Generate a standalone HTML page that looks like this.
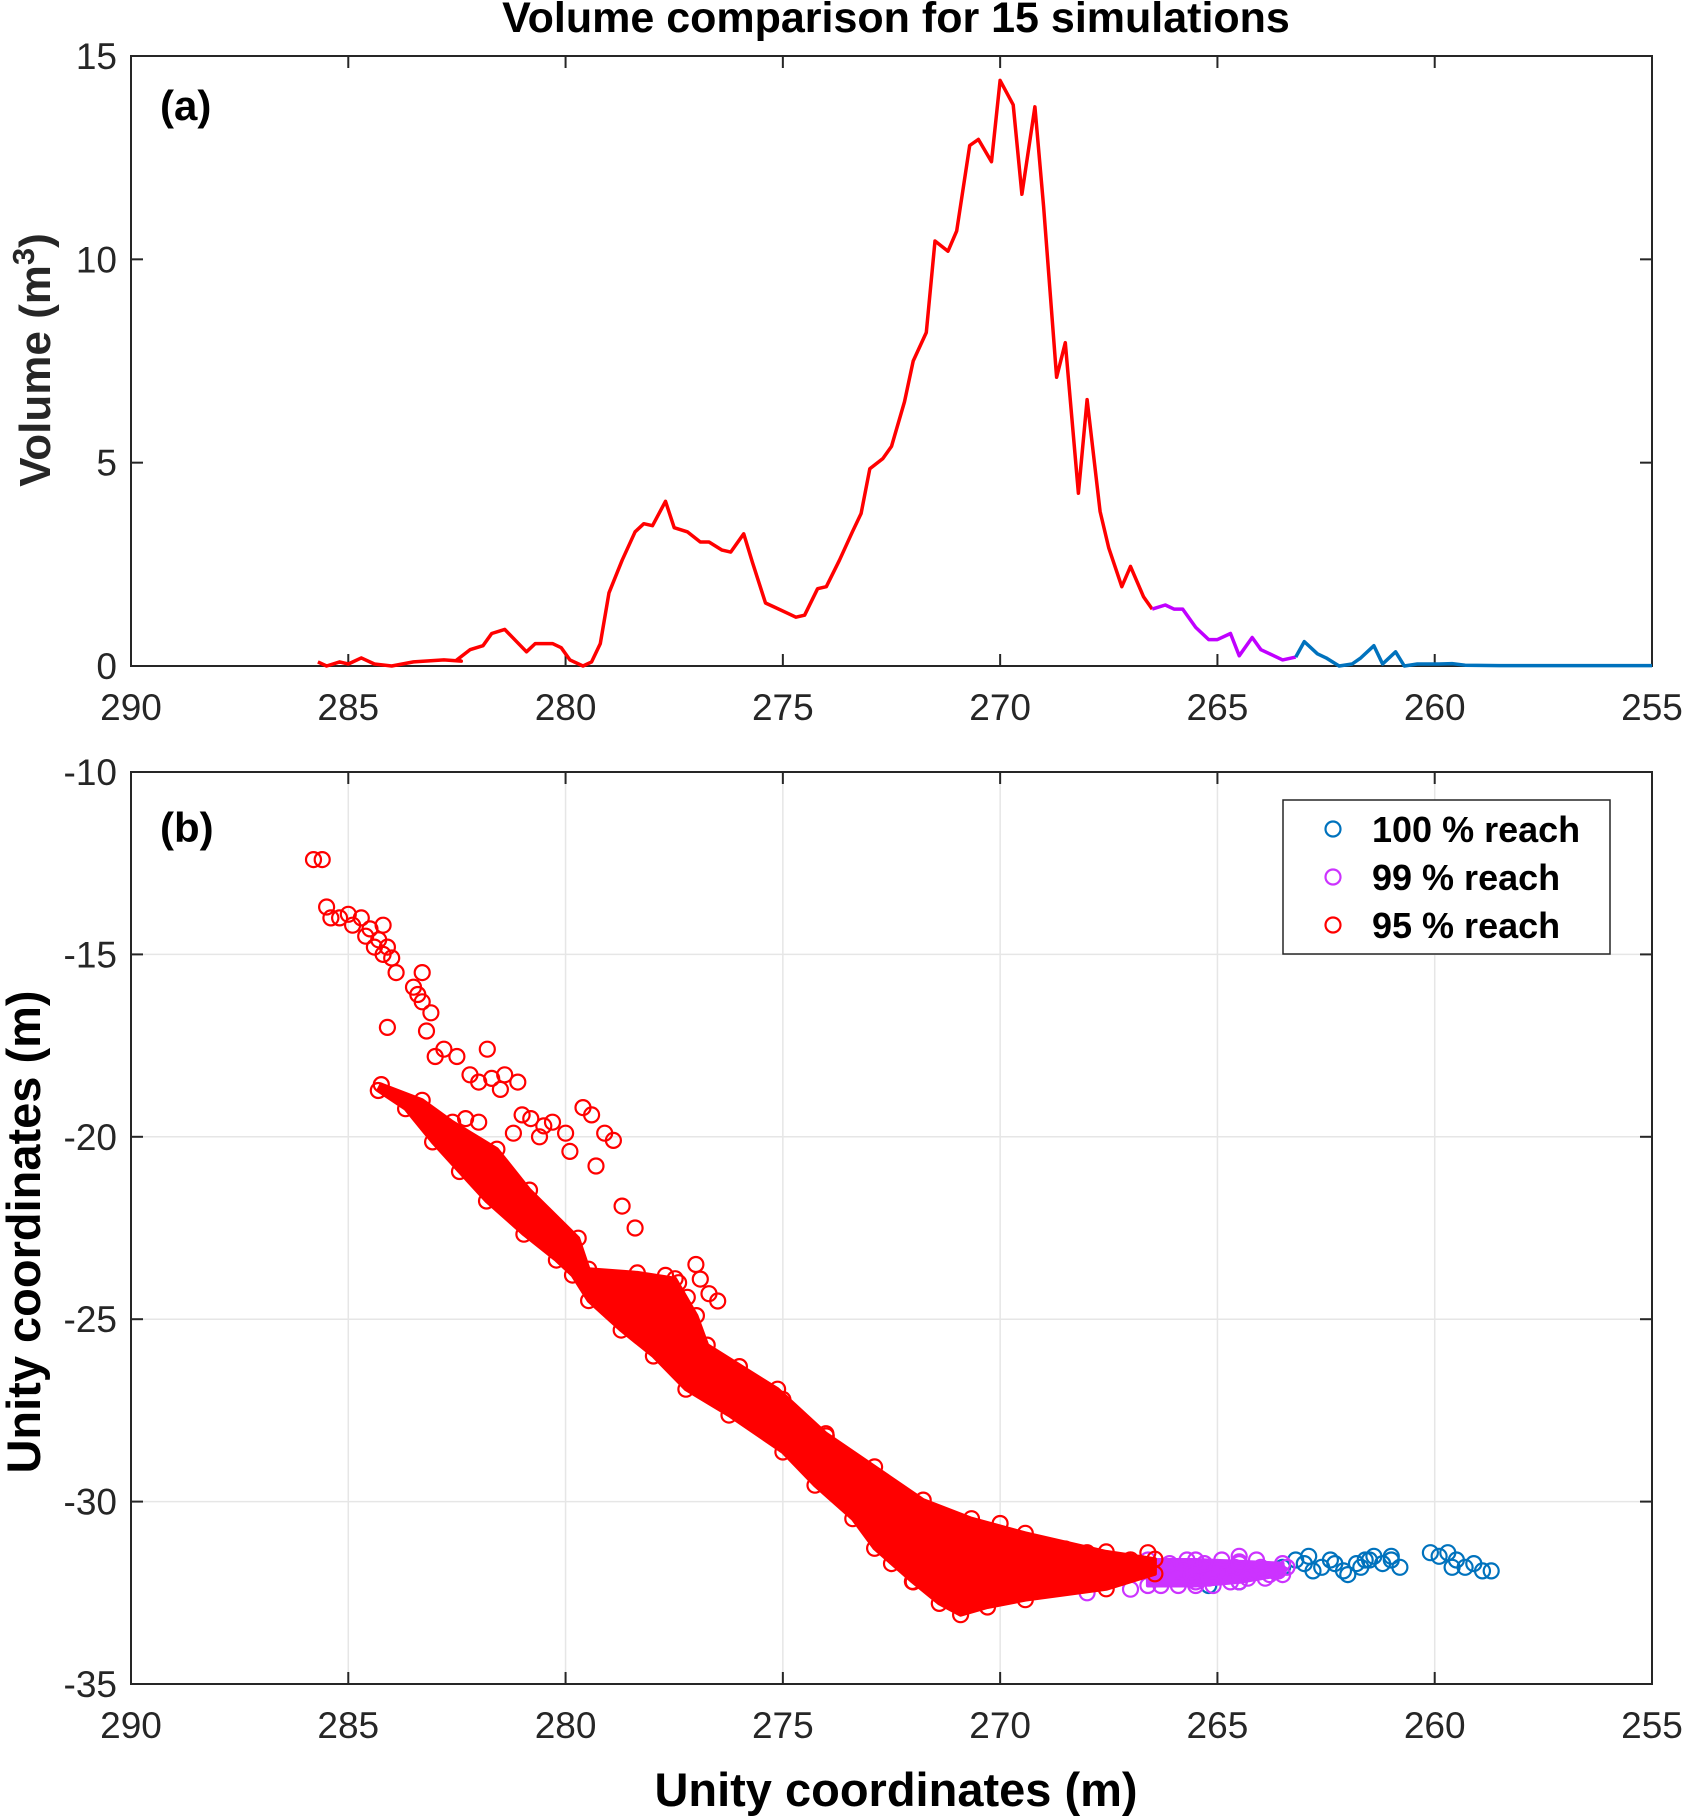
<!DOCTYPE html>
<html><head><meta charset="utf-8"><style>
html,body{margin:0;padding:0;background:#fff;}
svg{display:block;font-family:"Liberation Sans",Arial,sans-serif;}
</style></head><body>
<svg id="fig" width="1688" height="1816" viewBox="0 0 1688 1816" xmlns="http://www.w3.org/2000/svg">
<text x="896" y="32" text-anchor="middle" font-size="43" font-weight="bold">Volume comparison for 15 simulations</text>
<g id="topPanel"></g>
<g id="botPanel"></g>
</svg>
<script>
// ---------- Panel (a) data ----------
const redVX=[285.7,285.5,285.2,285.0,284.7,284.4,284.0,283.5,282.8,282.4,282.5,282.2,281.9,281.7,281.4,280.9,280.7,280.3,280.1,279.9,279.6,279.4,279.2,279.0,278.7,278.4,278.2,278.0,277.7,277.5,277.2,276.9,276.7,276.4,276.2,275.9,275.7,275.4,275.2,274.9,274.7,274.5,274.2,274.0,273.7,273.4,273.2,273.0,272.7,272.5,272.2,272.0,271.7,271.5,271.2,271.0,270.7,270.5,270.2,270.0,269.7,269.5,269.2,269.0,268.7,268.5,268.2,268.0,267.7,267.5,267.2,267.0,266.7,266.5];
const redVY=[0.1,0.0,0.1,0.05,0.2,0.05,0.0,0.1,0.15,0.12,0.15,0.4,0.5,0.8,0.9,0.35,0.55,0.55,0.45,0.15,0.0,0.1,0.55,1.8,2.6,3.3,3.5,3.45,4.05,3.4,3.3,3.05,3.05,2.85,2.8,3.25,2.55,1.55,1.45,1.3,1.2,1.25,1.9,1.95,2.6,3.3,3.75,4.85,5.1,5.4,6.5,7.5,8.2,10.45,10.2,10.7,12.8,12.95,12.4,14.4,13.8,11.6,13.75,11.3,7.1,7.95,4.25,6.55,3.8,2.9,1.95,2.45,1.7,1.4];
const purVX=[266.5,266.2,266.0,265.8,265.5,265.2,265.0,264.7,264.5,264.2,264.0,263.7,263.5,263.2];
const purVY=[1.4,1.5,1.4,1.4,0.95,0.65,0.65,0.8,0.25,0.7,0.4,0.25,0.15,0.22];
const bluVX=[263.2,263.0,262.7,262.5,262.2,261.9,261.7,261.4,261.2,260.9,260.7,260.4,260.1,259.9,259.6,259.3,258.5,257,256,255];
const bluVY=[0.22,0.6,0.3,0.2,0.0,0.05,0.2,0.5,0.05,0.35,0.0,0.05,0.05,0.05,0.06,0.02,0.01,0.01,0.01,0.01];
const xTicks=[290,285,280,275,270,265,260,255];
const yTicksTop=[0,5,10,15];
const yTicksBot=[-10,-15,-20,-25,-30,-35];
// ---------- Panel (b) data ----------
// dense-region envelopes (data coords)
const redBandX=[284.24,283.3,282.6,281.58,280.83,279.71,279.47,278.35,277.48,276.99,276.74,275.12,274.01,272.89,271.77,270.66,269.42,267.56,266.44,266.44,267.56,269.42,270.29,270.91,271.40,272.02,272.89,273.39,274.26,275.00,276.24,277.23,277.98,278.72,279.47,279.84,280.21,280.96,281.82,282.44,283.06,283.68,284.31];
const redBandY=[-18.57,-19.0,-19.6,-20.34,-21.46,-22.78,-23.63,-23.73,-23.89,-24.90,-25.71,-26.92,-28.14,-29.05,-29.96,-30.47,-30.87,-31.38,-31.58,-31.98,-32.39,-32.69,-32.89,-33.1,-32.79,-32.19,-31.28,-30.47,-29.55,-28.64,-27.63,-26.92,-26.01,-25.30,-24.49,-23.79,-23.38,-22.67,-21.76,-20.95,-20.14,-19.23,-18.73];
const purBandX=[266.6,265.5,264.5,263.5,263.5,264.5,265.5,266.6];
const purBandY=[-31.6,-31.6,-31.65,-31.7,-32.0,-32.2,-32.3,-32.3];
const redSX=[285.8,285.6,285.5,285.4,285.2,285.0,284.9,284.7,284.6,284.5,284.4,284.3,284.2,284.1,284.0,284.2,283.9,284.1,283.5,283.4,283.3,283.3,283.1,283.2,283.0,282.8,282.5,282.2,282.0,281.8,281.7,281.4,281.1,281.5,281.0,280.8,280.5,280.3,280.0,281.2,280.6,279.9,279.6,279.4,279.1,278.9,279.3,278.7,278.4,282.3,282.0,277.7,277.4,276.9,277.2,276.7,276.5,277.0,
272.5,272.0,271.6,270.2,269.0,268.0,267.0,266.6,276.0,275.0,274.0,273.2,277.6,273.0,270.0,268.5,267.0];
const redSY=[-12.4,-12.4,-13.7,-14.0,-14.0,-13.9,-14.2,-14.0,-14.5,-14.3,-14.8,-14.6,-15.0,-14.8,-15.1,-14.2,-15.5,-17.0,-15.9,-16.1,-16.3,-15.5,-16.6,-17.1,-17.8,-17.6,-17.8,-18.3,-18.5,-17.6,-18.4,-18.3,-18.5,-18.7,-19.4,-19.5,-19.7,-19.6,-19.9,-19.9,-20.0,-20.4,-19.2,-19.4,-19.9,-20.1,-20.8,-21.9,-22.5,-19.5,-19.6,-23.8,-24.0,-23.9,-24.4,-24.3,-24.5,-23.5,
-31.7,-32.2,-30.3,-31.0,-31.3,-31.4,-31.6,-31.4,-26.3,-27.2,-28.2,-29.2,-25.8,-29.9,-30.6,-31.3,-31.6];
const purSX=[266.4,266.2,266.0,265.8,265.6,265.4,265.2,265.0,264.8,264.6,264.4,264.2,264.0,263.8,263.6,263.4,266.3,265.9,265.5,265.1,264.7,264.3,263.9,266.1,265.7,265.3,264.9,264.5,264.1,263.7,267.0,268.0,264.5];
const purSY=[-32.0,-31.8,-32.1,-31.9,-32.0,-31.8,-32.1,-31.9,-32.0,-31.8,-32.0,-31.9,-31.8,-32.0,-31.9,-31.8,-32.3,-32.3,-32.2,-32.3,-32.2,-32.1,-32.1,-31.7,-31.6,-31.7,-31.6,-31.7,-31.6,-31.9,-32.4,-32.5,-31.5];
const bluSX=[263.5,263.2,262.9,262.6,262.4,262.1,261.8,261.6,261.4,261.2,261.0,260.8,260.1,259.9,259.7,259.5,259.3,259.1,258.9,258.7,262.8,262.3,261.7,261.5,261.0,263.0,262.0,259.6,264.5,265.2];
const bluSY=[-31.8,-31.6,-31.5,-31.8,-31.6,-31.9,-31.7,-31.6,-31.5,-31.7,-31.5,-31.8,-31.4,-31.5,-31.4,-31.6,-31.8,-31.7,-31.9,-31.9,-31.9,-31.7,-31.8,-31.6,-31.6,-31.7,-32.0,-31.8,-32.2,-32.3];

const NS='http://www.w3.org/2000/svg';
function mk(tag,attrs,parent){const e=document.createElementNS(NS,tag);for(const k in attrs)e.setAttribute(k,attrs[k]);parent.appendChild(e);return e;}
const L=131,R=1652;
const xs=v=>L+(290-v)/35*(R-L);
const TT=56,TB=666; const yT=v=>TB-(v/15)*(TB-TT);
const BT=772,BB=1684; const yB=v=>BT+(-10-v)/25*(BB-BT);
const gTop=document.getElementById('topPanel'), gBot=document.getElementById('botPanel');
const TF=37;

// ---- panel a ----
let el;
el=mk('rect',{x:L,y:TT,width:R-L,height:TB-TT,fill:'#fff',stroke:'#262626','stroke-width':2},gTop);


xTicks.forEach(t=>{const x=xs(t);
  mk('line',{x1:x,y1:TB,x2:x,y2:TB-12,stroke:'#262626','stroke-width':2},gTop);
  mk('line',{x1:x,y1:TT,x2:x,y2:TT+12,stroke:'#262626','stroke-width':2},gTop);
  el=mk('text',{x:x,y:TB+54,'text-anchor':'middle','font-size':TF,fill:'#262626'},gTop);el.textContent=t;
  
  
});
yTicksTop.forEach(t=>{const y=yT(t);
  mk('line',{x1:L,y1:y,x2:L+12,y2:y,stroke:'#262626','stroke-width':2},gTop);
  mk('line',{x1:R,y1:y,x2:R-12,y2:y,stroke:'#262626','stroke-width':2},gTop);
  el=mk('text',{x:L-14,y:y+13,'text-anchor':'end','font-size':TF,fill:'#262626'},gTop);el.textContent=t;
  
  
});
function line(X,Y,c,name){const n=Math.min(X.length,Y.length);const pts=[];for(let i=0;i<n;i++)pts.push(xs(X[i]).toFixed(1)+','+yT(Y[i]).toFixed(1));
  const e=mk('polyline',{points:pts.join(' '),fill:'none',stroke:c,'stroke-width':3.5,'stroke-linejoin':'round'},gTop);
  
  }
line(redVX,redVY,'#ff0000','volume-line-95');
line(purVX,purVY,'#c000ff','volume-line-99');
line(bluVX,bluVY,'#0072bd','volume-line-100');
el=mk('text',{x:160,y:120,'font-size':42,'font-weight':'bold'},gTop);el.textContent='(a)';


el=mk('text',{x:0,y:0,'font-size':44,'font-weight':'bold','text-anchor':'middle',transform:'translate(50,360) rotate(-90)',fill:'#262626'},gTop);
el.textContent='Volume (m';
const sup=mk('tspan',{dy:-16,'font-size':31},el);sup.textContent='3';
const cl=mk('tspan',{dy:16},el);cl.textContent=')';



// ---- panel b ----
xTicks.forEach(t=>{const x=xs(t);
  mk('line',{x1:x,y1:BT,x2:x,y2:BB,stroke:'#e6e6e6','stroke-width':1.5},gBot);});
yTicksBot.forEach(t=>{const y=yB(t);
  mk('line',{x1:L,y1:y,x2:R,y2:y,stroke:'#e6e6e6','stroke-width':1.5},gBot);});
function band(X,Y,c,name){const n=Math.min(X.length,Y.length);const pts=[];for(let i=0;i<n;i++)pts.push(xs(X[i]).toFixed(1)+','+yB(Y[i]).toFixed(1));
  const e=mk('polygon',{points:pts.join(' '),fill:c,stroke:c,'stroke-width':4,'stroke-linejoin':'round'},gBot);
  
  }
function scat(X,Y,c,name){const n=Math.min(X.length,Y.length);for(let i=0;i<n;i++){const e=mk('circle',{cx:xs(X[i]).toFixed(1),cy:yB(Y[i]).toFixed(1),r:7.5,fill:'none',stroke:c,'stroke-width':2.2},gBot);
  
  }}
scat(bluSX,bluSY,'#0072bd','point-100');
band(purBandX,purBandY,'#cc33ff','dense-region-99');
scat(purBandX,purBandY,'#cc33ff','point-99-edge');
scat(purSX,purSY,'#cc33ff','point-99');
band(redBandX,redBandY,'#ff0000','dense-region-95');
scat(redBandX,redBandY,'#ff0000','point-95-edge');
scat(redSX,redSY,'#ff0000','point-95');
el=mk('rect',{x:L,y:BT,width:R-L,height:BB-BT,fill:'none',stroke:'#262626','stroke-width':2},gBot);


xTicks.forEach(t=>{const x=xs(t);
  mk('line',{x1:x,y1:BB,x2:x,y2:BB-12,stroke:'#262626','stroke-width':2},gBot);
  mk('line',{x1:x,y1:BT,x2:x,y2:BT+12,stroke:'#262626','stroke-width':2},gBot);
  el=mk('text',{x:x,y:BB+54,'text-anchor':'middle','font-size':TF,fill:'#262626'},gBot);el.textContent=t;
  
  
});
yTicksBot.forEach(t=>{const y=yB(t);
  mk('line',{x1:L,y1:y,x2:L+12,y2:y,stroke:'#262626','stroke-width':2},gBot);
  mk('line',{x1:R,y1:y,x2:R-12,y2:y,stroke:'#262626','stroke-width':2},gBot);
  el=mk('text',{x:L-14,y:y+13,'text-anchor':'end','font-size':TF,fill:'#262626'},gBot);el.textContent=t;
  
  
});
el=mk('text',{x:160,y:842,'font-size':42,'font-weight':'bold'},gBot);el.textContent='(b)';


el=mk('text',{x:896,y:1806,'font-size':47,'font-weight':'bold','text-anchor':'middle',fill:'#000'},gBot);el.textContent='Unity coordinates (m)';


el=mk('text',{x:0,y:0,'font-size':47,'font-weight':'bold','text-anchor':'middle',transform:'translate(40,1232) rotate(-90)',fill:'#000'},gBot);el.textContent='Unity coordinates (m)';


// legend
const lg=mk('g',{},gBot);


mk('rect',{x:1283,y:800,width:327,height:154,fill:'#fff',stroke:'#262626','stroke-width':1.5},lg);
[['100 % reach','#0072bd'],['99 % reach','#cc33ff'],['95 % reach','#ff0000']].forEach((d,i)=>{
  const y=829+i*48;
  const c=mk('circle',{cx:1333,cy:y,r:7.5,fill:'none',stroke:d[1],'stroke-width':2.2},lg);
  
  
  const t=mk('text',{x:1372,y:y+13,'font-size':36,'font-weight':'bold',fill:'#000'},lg);t.textContent=d[0];
  
  
});
</script>
</body></html>
